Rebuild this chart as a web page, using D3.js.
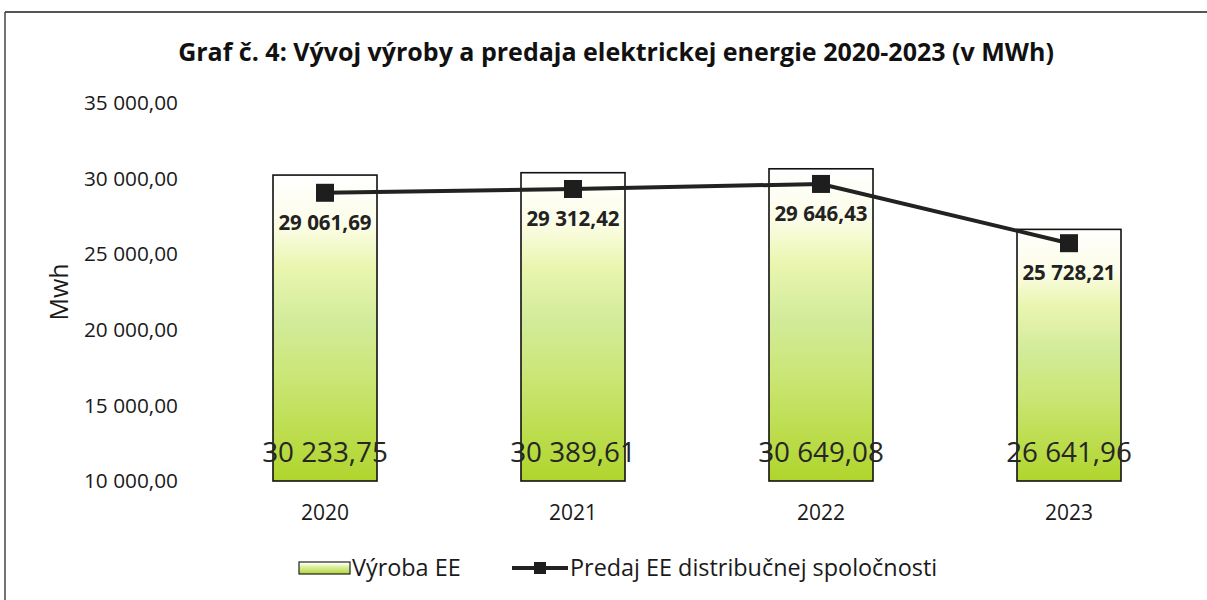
<!DOCTYPE html>
<html><head><meta charset="utf-8">
<script src="https://cdn.jsdelivr.net/npm/d3@7"></script>
<style>
html,body{margin:0;padding:0;background:#fff;}
text{font-family:"Open Sans",Lato,sans-serif;}
</style></head>
<body><svg id="c" width="1207" height="600"></svg>
<script>
const categories = ["2020","2021","2022","2023"];
const vyroba = [30233.75, 30389.61, 30649.08, 26641.96];
const predaj = [29061.69, 29312.42, 29646.43, 25728.21];
const yTicks = [10000, 15000, 20000, 25000, 30000, 35000];
const titleText = "Graf č. 4: Vývoj výroby a predaja elektrickej energie 2020-2023 (v MWh)";
const seriesNames = ["Výroba EE", "Predaj EE distribučnej spoločnosti"];
const yTitle = "Mwh";

const loc = d3.formatLocale({decimal:",", thousands:"\u00a0", grouping:[3], currency:["",""]});
const fmt = loc.format(",.2f");
const FF = "'Open Sans',Lato,sans-serif";

const svg = d3.select("#c");
svg.append("line").attr("x1",5).attr("x2",1207).attr("y1",12).attr("y2",12).attr("stroke","#555").attr("stroke-width",2);
svg.append("line").attr("x1",5).attr("x2",5).attr("y1",12).attr("y2",600).attr("stroke","#444").attr("stroke-width",1.5);

const defs = svg.append("defs");
const g = defs.append("linearGradient").attr("id","grad").attr("x1",0).attr("y1",0).attr("x2",0).attr("y2",1);
[[0,"#ffffff"],[0.16,"#fcfde8"],[0.3,"#eaf6b0"],[0.48,"#d2eb9a"],[0.66,"#cbe676"],[1,"#b0d52c"]].forEach(s=>
  g.append("stop").attr("offset",s[0]).attr("stop-color",s[1]));

const x = d3.scaleBand().domain(categories).range([201,1193]).paddingInner(0.58).paddingOuter(0.29);
const y = d3.scaleLinear().domain([10000,35000]).range([481,103]);

svg.append("text").attr("x",616).attr("y",61).attr("text-anchor","middle")
  .attr("font-size",25).attr("font-weight","bold").attr("fill","#111").text(titleText);

const yAxis = d3.axisLeft(y).tickValues(yTicks).tickFormat(d=>fmt(d)).tickSize(0).tickPadding(0);
const ya = svg.append("g").attr("transform","translate(178,0)").call(yAxis);
ya.select(".domain").remove();
ya.selectAll("text").attr("font-size",20.8).attr("fill","#1a1a1a").attr("font-family",FF);

svg.append("text").attr("transform","translate(68,292) rotate(-90)").attr("text-anchor","middle")
  .attr("font-size",25).attr("fill","#1a1a1a").text(yTitle);

const xAxis = d3.axisBottom(x).tickSize(0).tickPadding(0);
const xa = svg.append("g").attr("transform","translate(0,520)").call(xAxis);
xa.select(".domain").remove();
xa.selectAll("text").attr("font-size",21).attr("fill","#1a1a1a").attr("font-family",FF).attr("dy","0");

const bw = 104;
svg.selectAll("rect.bar").data(vyroba).enter().append("rect").attr("class","bar")
  .attr("x",(d,i)=>x(categories[i])+x.bandwidth()/2-bw/2)
  .attr("y",d=>y(d)).attr("width",bw).attr("height",d=>y(10000)-y(d))
  .attr("fill","url(#grad)").attr("stroke","#111").attr("stroke-width",1.6);

const cx = i => x(categories[i])+x.bandwidth()/2;
const line = d3.line().x((d,i)=>cx(i)).y(d=>y(d));
svg.append("path").datum(predaj).attr("d",line).attr("fill","none").attr("stroke","#222").attr("stroke-width",4);
svg.selectAll("rect.mk").data(predaj).enter().append("rect").attr("class","mk")
  .attr("x",(d,i)=>cx(i)-9).attr("y",d=>y(d)-9).attr("width",18).attr("height",18).attr("fill","#1e1e1e");

svg.selectAll("text.ll").data(predaj).enter().append("text").attr("class","ll")
  .attr("x",(d,i)=>cx(i)).attr("y",d=>y(d)+37).attr("text-anchor","middle")
  .attr("font-size",20.5).attr("font-weight","bold").attr("fill","#222").text(d=>fmt(d));

svg.selectAll("text.bl").data(vyroba).enter().append("text").attr("class","bl")
  .attr("x",(d,i)=>cx(i)).attr("y",462).attr("text-anchor","middle")
  .attr("font-size",27.8).attr("fill","#262626").text(d=>fmt(d));

const lg = svg.append("g");
lg.append("rect").attr("x",299).attr("y",562).attr("width",51).attr("height",12)
  .attr("fill","url(#grad)").attr("stroke","#222").attr("stroke-width",1.2);
lg.append("text").attr("x",352).attr("y",576).attr("font-size",23.4).attr("fill","#1a1a1a").text(seriesNames[0]);
lg.append("line").attr("x1",512).attr("x2",568).attr("y1",568).attr("y2",568).attr("stroke","#222").attr("stroke-width",4);
lg.append("rect").attr("x",534).attr("y",562).attr("width",12).attr("height",12).attr("fill","#1e1e1e");
lg.append("text").attr("x",570).attr("y",576).attr("font-size",23.4).attr("fill","#1a1a1a").text(seriesNames[1]);
</script></body></html>
